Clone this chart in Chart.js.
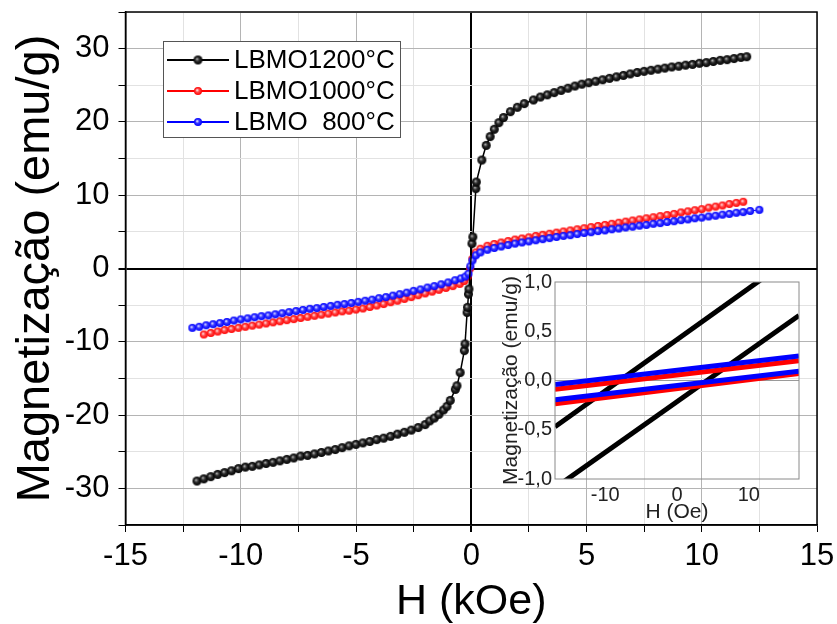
<!DOCTYPE html>
<html>
<head>
<meta charset="utf-8">
<script src="https://cdn.jsdelivr.net/npm/chart.js@4"></script>
<style>
body { margin: 0; background: #fff; }
#wrap { position: relative; width: 837px; height: 624px; }
#main { position: absolute; left: 0; top: 0; }
#inset { position: absolute; left: 470px; top: 272px; }
</style>
</head>
<body>
<div id="wrap">
<canvas id="main" width="837" height="624"></canvas>
<canvas id="inset" width="340" height="260"></canvas>
</div>
<script>
// LBMO 1200°C  (H in kOe, M in emu/g)
const h1200 = [-11.9,-11.6,-11.3,-11.0,-10.7,-10.4,-10.1,-9.8,-9.5,-9.2,-8.9,-8.6,-8.3,-8.0,-7.7,-7.4,-7.1,-6.8,-6.5,-6.2,-5.9,-5.6,-5.3,-5.0,-4.7,-4.4,-4.1,-3.8,-3.5,-3.2,-2.9,-2.6,-2.3,-2.0,
  -1.8,-1.6,-1.4,-1.2,-1.05,-0.91,-0.69,-0.62,-0.48,-0.30,-0.27,-0.18,-0.16,-0.12,-0.10,
  0.03,0.07,0.20,0.22,0.46,0.65,0.82,
  1.0,1.2,1.4,1.7,
  2.0,2.3,2.7,3.0,3.3,3.6,3.9,4.2,4.5,4.8,5.1,5.4,5.7,6.0,6.3,6.6,6.9,7.2,7.5,7.8,8.1,8.4,8.7,9.0,9.3,9.6,9.9,10.2,10.5,10.8,11.1,11.4,11.7,11.95];
const m1200 = [-29.0,-28.7,-28.4,-28.1,-27.85,-27.6,-27.3,-27.1,-27.0,-26.8,-26.6,-26.45,-26.25,-26.05,-25.85,-25.6,-25.5,-25.3,-25.1,-24.9,-24.7,-24.45,-24.2,-24.0,-23.8,-23.6,-23.35,-23.15,-22.9,-22.6,-22.35,-22.05,-21.7,-21.3,
  -20.8,-20.4,-19.9,-19.3,-18.8,-18.0,-16.5,-16.0,-14.2,-11.2,-10.3,-6.0,-5.3,-3.5,-2.8,
  3.4,4.3,10.9,11.8,14.8,16.8,18.0,
  19.0,19.9,20.6,21.4,
  22.0,22.5,23.0,23.4,23.7,24.0,24.3,24.6,24.9,25.15,25.35,25.55,25.75,25.95,26.15,26.35,26.55,26.75,26.9,27.05,27.2,27.35,27.5,27.6,27.75,27.85,28.0,28.1,28.25,28.4,28.5,28.65,28.8,28.9];

// LBMO 1000°C
const h1000 = [-11.6,-11.3,-11.0,-10.7,-10.4,-10.1,-9.8,-9.5,-9.2,-8.9,-8.6,-8.3,-8.0,-7.7,-7.4,-7.1,-6.8,-6.5,-6.2,-5.9,-5.6,-5.3,-5.0,-4.7,-4.4,-4.1,-3.8,-3.5,-3.2,-2.9,-2.6,-2.3,-2.0,-1.7,-1.4,-1.1,-0.8,
  -0.5,-0.3,-0.15,-0.05,
  0.05,0.2,0.4,
  0.7,1.0,1.3,1.6,1.9,2.2,2.5,2.8,3.1,3.4,3.7,4.0,4.3,4.6,4.9,5.2,5.5,5.8,6.1,6.4,6.7,7.0,7.3,7.6,7.9,8.2,8.5,8.8,9.1,9.4,9.7,10.0,10.3,10.6,10.9,11.2,11.5,11.8];
const m1000 = [-9.0,-8.8,-8.6,-8.4,-8.25,-8.1,-7.95,-7.8,-7.65,-7.5,-7.35,-7.2,-7.05,-6.9,-6.75,-6.6,-6.45,-6.3,-6.15,-6.0,-5.85,-5.75,-5.6,-5.45,-5.25,-5.05,-4.85,-4.6,-4.4,-4.15,-3.9,-3.65,-3.4,-3.15,-2.9,-2.65,-2.4,
  -2.1,-1.7,-1.1,0.0,
  1.3,2.2,2.7,
  3.1,3.35,3.55,3.75,3.95,4.1,4.25,4.45,4.6,4.75,4.9,5.05,5.2,5.35,5.5,5.65,5.8,5.95,6.1,6.25,6.4,6.55,6.7,6.85,7.0,7.15,7.3,7.45,7.65,7.8,7.95,8.1,8.3,8.45,8.6,8.8,8.95,9.1];

// LBMO 800°C
const h800 = [-12.1,-11.8,-11.5,-11.2,-10.9,-10.6,-10.3,-10.0,-9.7,-9.4,-9.1,-8.8,-8.5,-8.2,-7.9,-7.6,-7.3,-7.0,-6.7,-6.4,-6.1,-5.8,-5.5,-5.2,-4.9,-4.6,-4.3,-4.0,-3.7,-3.4,-3.1,-2.8,-2.5,-2.2,-1.9,-1.6,-1.3,-1.0,-0.7,
  -0.45,-0.25,-0.12,-0.04,
  0.05,0.2,0.4,
  0.7,1.0,1.3,1.6,1.9,2.2,2.5,2.8,3.1,3.4,3.7,4.0,4.3,4.6,4.9,5.2,5.5,5.8,6.1,6.4,6.7,7.0,7.3,7.6,7.9,8.2,8.5,8.8,9.1,9.4,9.7,10.0,10.3,10.6,10.9,11.2,11.5,11.8,12.1,
  12.5];
const m800 = [-8.1,-7.95,-7.75,-7.6,-7.45,-7.3,-7.1,-6.95,-6.8,-6.65,-6.5,-6.4,-6.25,-6.1,-5.95,-5.8,-5.65,-5.5,-5.4,-5.25,-5.1,-4.95,-4.85,-4.7,-4.55,-4.4,-4.25,-4.05,-3.9,-3.7,-3.5,-3.3,-3.05,-2.85,-2.6,-2.4,-2.15,-1.9,-1.6,
  -1.35,-1.1,-0.7,0.3,
  1.1,1.8,2.2,
  2.55,2.8,3.0,3.2,3.4,3.55,3.7,3.85,4.0,4.15,4.3,4.45,4.55,4.7,4.85,4.95,5.1,5.2,5.35,5.45,5.6,5.7,5.85,5.95,6.1,6.2,6.35,6.45,6.6,6.7,6.85,6.95,7.1,7.2,7.35,7.45,7.6,7.7,7.85,
  8.0];

// inset (H in Oe, M in emu/g): two branches per sample
const insetH = [-17, 17];
const in1200Up = [-0.47, 1.30];
const in1200Down = [-1.09, 0.66];
const in1000Up = [-0.09, 0.20];
const in1000Down = [-0.235, 0.07];
const in800Up = [-0.04, 0.25];
const in800Down = [-0.195, 0.095];

// ticks
const xTicks = [-15,-12.5,-10,-7.5,-5,-2.5,0,2.5,5,7.5,10,12.5,15];
const yTicks = [-35,-30,-25,-20,-15,-10,-5,0,5,10,15,20,25,30,35];
const insetXTicks = [-10, 0, 10];
const insetYTicks = [-1, -0.5, 0, 0.5, 1];

const FONT = "'Liberation Sans', Arial, sans-serif";

function sphere(r, base, mid, hi) {
    const c = document.createElement('canvas');
    c.width = c.height = 2 * r + 2;
    const g = c.getContext('2d');
    const cx = r + 1, cy = r + 1;
    const grad = g.createRadialGradient(cx - r * 0.25, cy - r * 0.25, 0, cx, cy, r);
    grad.addColorStop(0, hi);
    grad.addColorStop(0.45, mid);
    grad.addColorStop(1, base);
    g.fillStyle = grad;
    g.beginPath();
    g.arc(cx, cy, r, 0, Math.PI * 2);
    g.fill();
    return c;
}

const blackBall = sphere(4.5, '#000000', '#2a2a2a', '#bdbdbd');
const redBall = sphere(4, '#ff0000', '#ff4a4a', '#ffffff');
const blueBall = sphere(4, '#0000ff', '#3a3aff', '#ffffff');

const toPts = (hs, ms) => hs.map((h, i) => ({ x: h, y: ms[i] }));

// frame round the plot area
const framePlugin = {
    id: 'frame',
    afterDatasetsDraw(chart, args, opts) {
        const a = chart.chartArea;
        const ctx = chart.ctx;
        ctx.save();
        ctx.strokeStyle = opts.color || '#000';
        ctx.lineWidth = opts.width || 1.5;
        ctx.strokeRect(a.left, a.top, a.right - a.left, a.bottom - a.top);
        ctx.restore();
    }
};

// legend with line + ball, like the origin plot
const legendPlugin = {
    id: 'lineLegend',
    afterDraw(chart) {
        const ctx = chart.ctx;
        const items = [
            { text: 'LBMO1200°C', color: '#000000', ball: blackBall },
            { text: 'LBMO1000°C', color: '#ff0000', ball: redBall },
            { text: 'LBMO  800°C', color: '#0000ff', ball: blueBall }
        ];
        ctx.save();
        ctx.fillStyle = '#fff';
        ctx.fillRect(163, 41, 238, 97);
        ctx.strokeStyle = '#555';
        ctx.lineWidth = 1;
        ctx.strokeRect(163.5, 41.5, 237, 96);
        ctx.font = '26px ' + FONT;
        ctx.textBaseline = 'middle';
        items.forEach((it, i) => {
            const y = 60 + i * 31;
            ctx.strokeStyle = it.color;
            ctx.lineWidth = 2;
            ctx.beginPath();
            ctx.moveTo(167, y);
            ctx.lineTo(229, y);
            ctx.stroke();
            ctx.drawImage(it.ball, 198 - it.ball.width / 2, y - it.ball.height / 2);
            ctx.fillStyle = '#000';
            ctx.fillText(it.text, 234, y + 1);
        });
        ctx.restore();
    }
};

new Chart(document.getElementById('main'), {
    type: 'scatter',
    data: {
        datasets: [
            { label: 'LBMO1200°C', data: toPts(h1200, m1200), showLine: true, borderColor: '#000', borderWidth: 1.5, pointStyle: blackBall, pointRadius: 5 },
            { label: 'LBMO  800°C', data: toPts(h800, m800), showLine: true, borderColor: '#0000ff', borderWidth: 1, pointStyle: blueBall, pointRadius: 4 },
            { label: 'LBMO1000°C', data: toPts(h1000, m1000), showLine: true, borderColor: '#ff0000', borderWidth: 1, pointStyle: redBall, pointRadius: 4 }
        ]
    },
    options: {
        responsive: false,
        animation: false,
        devicePixelRatio: 1,
        layout: { padding: { top: 12, right: 20, left: 0, bottom: 0 } },
        plugins: { legend: { display: false }, tooltip: { enabled: false } },
        scales: {
            x: {
                type: 'linear', min: -15, max: 15,
                afterBuildTicks: s => { s.ticks = xTicks.map(v => ({ value: v })); },
                afterFit: s => { s.height = 99; s.paddingLeft = 0; s.paddingRight = 0; },
                ticks: {
                    autoSkip: false, maxRotation: 0, padding: 6, color: '#000',
                    font: { family: FONT, size: 31 },
                    callback: v => (v % 5 === 0 ? String(v) : '')
                },
                grid: {
                    color: c => c.tick.value === 0 ? '#000' : (c.tick.value % 5 === 0 ? '#b4b4b4' : '#e2e2e2'),
                    lineWidth: c => c.tick.value === 0 ? 2 : 1,
                    tickColor: '#000', tickLength: 7
                },
                border: { color: '#000', width: 1.5 },
                title: { display: true, text: 'H (kOe)', color: '#000', font: { family: FONT, size: 43, lineHeight: 1 }, padding: { top: 0, bottom: 0 } }
            },
            y: {
                type: 'linear', min: -35, max: 35,
                afterBuildTicks: s => { s.ticks = yTicks.map(v => ({ value: v })); },
                afterFit: s => { s.width = 125.5; s.paddingTop = 0; s.paddingBottom = 0; },
                ticks: {
                    autoSkip: false, padding: 9, color: '#000',
                    font: { family: FONT, size: 31 },
                    callback: v => (v % 10 === 0 && Math.abs(v) < 35 ? String(v) : '')
                },
                grid: {
                    color: c => c.tick.value === 0 ? '#000' : (c.tick.value % 10 === 0 ? '#b4b4b4' : '#e2e2e2'),
                    lineWidth: c => c.tick.value === 0 ? 2 : 1,
                    tickColor: '#000', tickLength: 7
                },
                border: { color: '#000', width: 1.5 },
                title: { display: true, text: 'Magnetização (emu/g)', color: '#000', font: { family: FONT, size: 47, lineHeight: 1 }, padding: { top: 13, bottom: 0 } }
            }
        }
    },
    plugins: [framePlugin, legendPlugin]
});

const insetLine = (hs, ms, color) => ({ data: toPts(hs, ms), showLine: true, borderColor: color, borderWidth: 5, pointRadius: 0 });

new Chart(document.getElementById('inset'), {
    type: 'scatter',
    data: {
        datasets: [
            insetLine(insetH, in800Up, '#0000ff'),
            insetLine(insetH, in800Down, '#0000ff'),
            insetLine(insetH, in1000Up, '#ff0000'),
            insetLine(insetH, in1000Down, '#ff0000'),
            insetLine(insetH, in1200Up, '#000000'),
            insetLine(insetH, in1200Down, '#000000')
        ]
    },
    options: {
        responsive: false,
        animation: false,
        devicePixelRatio: 1,
        layout: { padding: { top: 10, right: 11, left: 0, bottom: 0 } },
        plugins: { legend: { display: false }, tooltip: { enabled: false }, frame: { color: '#8a8a8a', width: 1 } },
        scales: {
            x: {
                type: 'linear', min: -17, max: 17,
                afterBuildTicks: s => { s.ticks = insetXTicks.map(v => ({ value: v })); },
                afterFit: s => { s.height = 53; s.paddingLeft = 0; s.paddingRight = 0; },
                ticks: { autoSkip: false, maxRotation: 0, padding: 4, color: '#222', font: { family: FONT, size: 20 } },
                grid: { display: false, drawTicks: false },
                border: { display: false },
                title: { display: true, text: 'H (Oe)', color: '#222', font: { family: FONT, size: 21, lineHeight: 1 }, padding: { top: 0, bottom: 9 } }
            },
            y: {
                type: 'linear', min: -1, max: 1,
                afterBuildTicks: s => { s.ticks = insetYTicks.map(v => ({ value: v })); },
                afterFit: s => { s.width = 85; s.paddingTop = 0; s.paddingBottom = 0; },
                ticks: {
                    autoSkip: false, padding: 3, color: '#222', font: { family: FONT, size: 20 },
                    callback: v => v.toFixed(1).replace('.', ',')
                },
                grid: { color: c => c.tick.value === 0 ? '#9a9a9a' : 'rgba(0,0,0,0)', drawTicks: false },
                border: { display: false },
                title: { display: true, text: 'Magnetização (emu/g)', color: '#222', font: { family: FONT, size: 21, lineHeight: 1 }, padding: { top: 31, bottom: 0 } }
            }
        }
    },
    plugins: [framePlugin]
});
</script>
</body>
</html>
